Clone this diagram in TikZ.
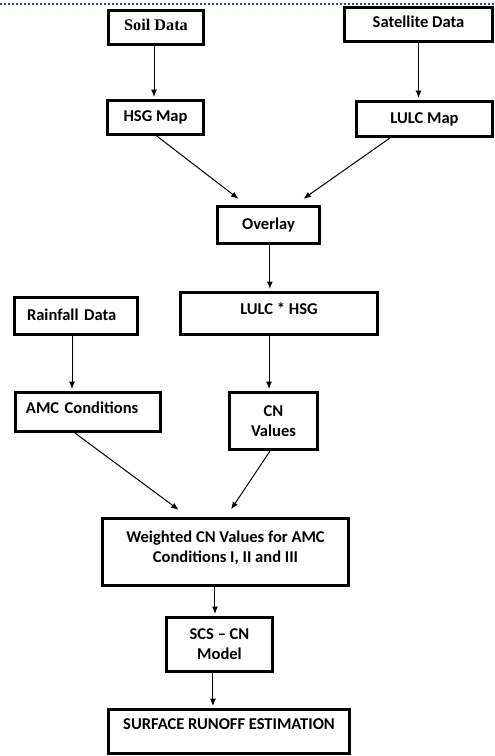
\documentclass[tikz,border=0pt]{standalone}
\usepackage{fontspec}
\setmainfont{Carlito}
\newfontfamily\serifbold{Liberation Serif}
\usepackage{tikz}
\usepackage{xcolor}
\usetikzlibrary{arrows.meta,positioning,calc}
\definecolor{ink}{HTML}{000000}
\definecolor{pagerule}{HTML}{3A3AE8}
\tikzset{
  flowbox/.style={draw=ink,fill=white,line width=2.1pt,
                  align=center,font=\fontsize{12.4}{15}\selectfont\bfseries,
                  inner sep=2pt},
  leftbox/.style={flowbox,align=left},
  lift/.style={text depth=#1},
  flowarr/.style={-{Latex[length=5.5pt,width=4.5pt]},line width=0.75pt,shorten >=1.5pt},
  pagerulestyle/.style={draw=pagerule,line width=0.9pt,dash pattern=on 1.5pt off 1.5pt}
}

\begin{document}
\begin{tikzpicture}[x=0.75pt,y=-0.75pt,>=Latex]
  \useasboundingbox (0,0) rectangle (495,756);
  \draw[pagerulestyle] (0,4) -- (495,4);

  \node[flowbox,minimum width=71.5pt,minimum height=25.75pt,lift=3.75pt,font=\fontsize{12.2}{14}\selectfont\serifbold\bfseries] (soil) at (156,27.5) {Soil Data};
  \node[flowbox,minimum width=111.25pt,minimum height=25.75pt,lift=4.5pt] (sat) at (418.5,24.5) {Satellite Data};
  \node[flowbox,minimum width=72.25pt,minimum height=25.75pt] (hsg) at (155.5,117.5) {HSG Map};
  \node[flowbox,minimum width=102.25pt,minimum height=26.5pt] (lulc) at (424.5,119) {LULC Map};
  \node[flowbox,minimum width=76.75pt,minimum height=28pt] (ovl) at (268.5,225) {Overlay};
  \node[flowbox,minimum width=148pt,minimum height=31.75pt,lift=6.75pt] (lh) at (279,313.5) {LULC * HSG};

  \node[leftbox,text width=73.5pt,inner xsep=9.5pt,minimum height=28pt,lift=2.25pt] (rain) at (76,316) {Rainfall Data};
  \node[leftbox,text width=93pt,inner xsep=8pt,minimum height=29.5pt,lift=6pt] (amc) at (88,412) {AMC Conditions};
  \node[flowbox,minimum width=66.25pt,minimum height=43pt] (cn) at (273.5,421) {CN\\Values};

  \node[flowbox,minimum width=184.75pt,minimum height=50.5pt,lift=8.25pt] (wt) at (225.5,552) {Weighted CN Values for AMC\\Conditions I, II and III};
  \node[flowbox,minimum width=79.75pt,minimum height=40.75pt] (scs) at (219.5,644.5) {SCS -- CN\\Model};
  \node[flowbox,minimum width=181pt,minimum height=33.25pt,lift=11.25pt] (sro) at (229,731.5) {SURFACE RUNOFF ESTIMATION};

  \draw[flowarr] ([xshift=-1.5pt]soil.south) -- ([xshift=-1.5pt]soil.south |- hsg.north);
  \draw[flowarr] (sat.south) -- (sat.south |- lulc.north);
  \draw[flowarr] ([xshift=1pt]hsg.south) -- ([xshift=-21.4pt,yshift=3.75pt]ovl.north);
  \draw[flowarr] ([xshift=-26pt]lulc.south) -- ([xshift=25pt,yshift=3.75pt]ovl.north);
  \draw[flowarr] ([xshift=1pt]ovl.south) -- ([xshift=1pt]ovl.south |- lh.north);
  \draw[flowarr] ([xshift=-3pt]rain.south) -- ([xshift=-3pt]rain.south |- amc.north);
  \draw[flowarr] ([xshift=-7.5pt]lh.south) -- ([xshift=-7.5pt]lh.south |- cn.north);
  \draw[flowarr] ([xshift=-9.75pt]amc.south) -- ([xshift=-34pt,yshift=4.5pt]wt.north);
  \draw[flowarr] ([xshift=-2.6pt]cn.south) -- ([xshift=3.4pt,yshift=4.5pt]wt.north);
  \draw[flowarr] ([xshift=-7.9pt]wt.south) -- ([xshift=-7.9pt]wt.south |- scs.north);
  \draw[flowarr] ([xshift=-4.9pt]scs.south) -- ([xshift=-4.9pt]scs.south |- sro.north);
\end{tikzpicture}
\end{document}
